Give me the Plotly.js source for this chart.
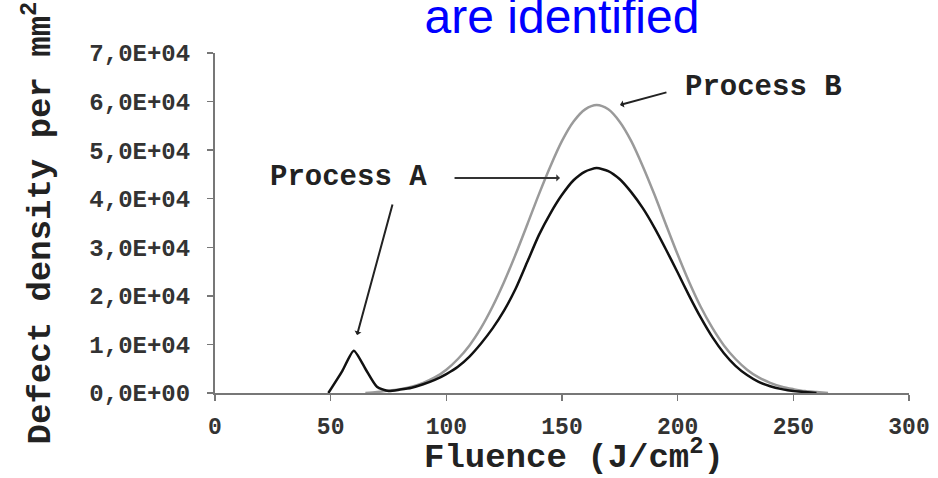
<!DOCTYPE html>
<html>
<head>
<meta charset="utf-8">
<script src="https://cdn.plot.ly/plotly-3.0.1.min.js"></script>
<style>html,body{margin:0;padding:0;background:#fff;}#chart{width:938px;height:478px;}</style>
</head>
<body>
<div id="chart"></div>
<script>
// Process A (black): small peak near 60, main peak near 165
const fluenceA = [49,55,60,65,70,75,80,85,90,95,100,105,110,115,120,125,130,135,140,145,150,155,160,165,170,175,180,185,190,195,200,205,210,215,220,225,230,235,240,245,250,255,260];
const densityA = [0,4500,8700,5000,1300,400,700,1100,1800,2700,3900,5400,7500,10200,13300,17000,21500,27000,32500,37000,40800,43800,45600,46300,45700,44000,41300,38000,34000,29500,24800,20000,15500,11500,8200,5600,3700,2300,1400,800,400,200,0];
// Process B (gray): single peak near 165
const fluenceB = [65,70,75,80,85,90,95,100,105,110,115,120,125,130,135,140,145,150,155,160,165,170,175,180,185,190,195,200,205,210,215,220,225,230,235,240,245,250,255,260,265];
const densityB = [0,200,500,800,1300,2100,3200,4800,7000,9800,13400,17800,22900,28600,34700,40900,46700,51900,55900,58400,59300,58400,55800,51800,46600,40800,34600,28500,22800,17700,13400,9800,7000,4800,3200,2100,1300,800,400,200,0];

const yTickVals = [0,10000,20000,30000,40000,50000,60000,70000];
const yTickText = ['0,0E+00','1,0E+04','2,0E+04','3,0E+04','4,0E+04','5,0E+04','6,0E+04','7,0E+04'];
const xTickVals = [0,50,100,150,200,250,300];
const xTickText = ['0','50','100','150','200','250','300'];

const mono = 'Liberation Mono, Courier New, monospace';

const traces = [
  {x: fluenceB, y: densityB, mode: 'lines', line: {color: '#9a9a9a', width: 2.5, shape: 'spline', smoothing: 0.8}, hoverinfo: 'skip'},
  {x: fluenceA, y: densityA, mode: 'lines', line: {color: '#111111', width: 2.5, shape: 'spline', smoothing: 0.6}, hoverinfo: 'skip'}
];

const layout = {
  width: 938, height: 478,
  margin: {l: 215, r: 29, t: 53, b: 85},
  paper_bgcolor: '#fff', plot_bgcolor: '#fff',
  showlegend: false,
  title: {text: 'are identified', x: 562/938, xanchor: 'center', xref: 'container', yref: 'container', y: 1 - 16/478, yanchor: 'middle',
          font: {family: 'Liberation Sans, Arial, sans-serif', size: 48, color: '#0000ff'}},
  xaxis: {
    range: [0, 300], tickvals: xTickVals, ticktext: xTickText,
    showgrid: false, zeroline: false, showline: true, linecolor: '#777', linewidth: 2,
    ticks: 'outside', ticklen: 6, tickcolor: '#777', tickwidth: 1.5, ticklabelstandoff: 5,
    tickfont: {family: mono, size: 23, color: '#333', weight: 'bold'}
  },
  yaxis: {
    range: [0, 70000], tickvals: yTickVals, ticktext: yTickText,
    showgrid: false, zeroline: false, showline: true, linecolor: '#777', linewidth: 2,
    ticks: 'outside', ticklen: 6, tickcolor: '#777', tickwidth: 1.5, ticklabelstandoff: 12,
    tickfont: {family: mono, size: 24, color: '#333', weight: 'bold'},
    title: {text: 'Defect density per mm<sup>2</sup>', standoff: 28, font: {family: mono, size: 34, color: '#222', weight: 'bold'}}
  },
  annotations: [
    {x: (574 - 215) / 694, y: -(455 - 393) / 340, xref: 'paper', yref: 'paper', text: 'Fluence (J/cm<sup>2</sup>)', showarrow: false,
     xanchor: 'center', yanchor: 'middle', font: {family: mono, size: 34, color: '#222', weight: 'bold'}},
    {x: 57.9, y: 44270, xref: 'x', yref: 'y', text: 'Process A', showarrow: false, xanchor: 'center', yanchor: 'middle',
     font: {family: mono, size: 29, color: '#222', weight: 'bold'}},
    {x: 237.3, y: 63000, xref: 'x', yref: 'y', text: 'Process B', showarrow: false, xanchor: 'center', yanchor: 'middle',
     font: {family: mono, size: 29, color: '#222', weight: 'bold'}},
    {x: 149.1, y: 44270, ax: 102.9, ay: 44270, xref: 'x', yref: 'y', axref: 'x', ayref: 'y', text: '', showarrow: true,
     arrowhead: 1, arrowsize: 0.6, arrowwidth: 2, arrowcolor: '#333'},
    {x: 175.1, y: 59300, ax: 195.8, ay: 61980, xref: 'x', yref: 'y', axref: 'x', ayref: 'y', text: '', showarrow: true,
     arrowhead: 1, arrowsize: 0.6, arrowwidth: 2, arrowcolor: '#222'},
    {x: 61.4, y: 11940, ax: 76.9, ay: 39120, xref: 'x', yref: 'y', axref: 'x', ayref: 'y', text: '', showarrow: true,
     arrowhead: 1, arrowsize: 0.6, arrowwidth: 2, arrowcolor: '#222'}
  ]
};

Plotly.newPlot('chart', traces, layout, {displayModeBar: false, staticPlot: true});
</script>
</body>
</html>
